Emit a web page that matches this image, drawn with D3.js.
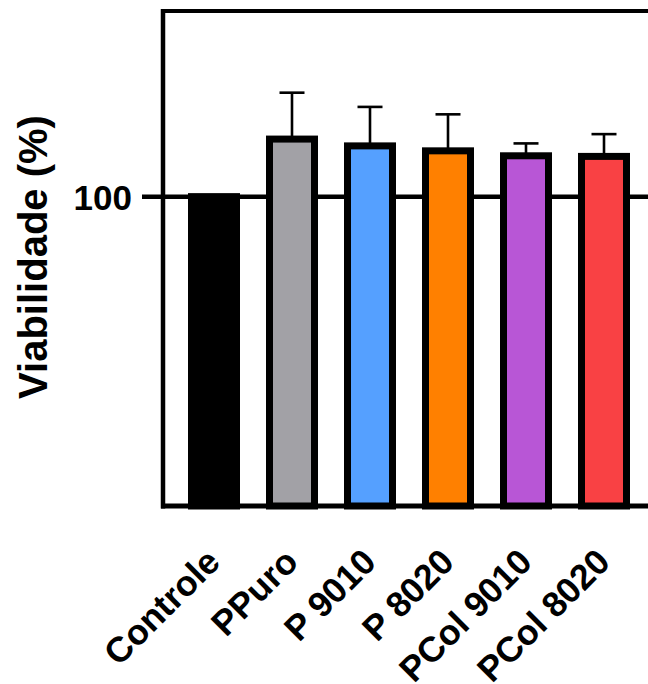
<!DOCTYPE html>
<html>
<head>
<meta charset="utf-8">
<script src="https://cdn.jsdelivr.net/npm/d3@7"></script>
<style>
  html, body { margin: 0; padding: 0; background: #fff; overflow: hidden; }
  svg { display: block; font-family: "Liberation Sans", Arial, sans-serif; font-weight: bold; }
</style>
</head>
<body>
<svg width="648" height="684"></svg>
<script>
// data
const categories = ["Controle", "PPuro", "P 9010", "P 8020", "PCol 9010", "PCol 8020"];
const means      = [100, 109.3, 108.2, 107.4, 106.6, 106.5];
const errors     = [0, 7.5, 6.3, 5.9, 2.0, 3.6];
const colors     = ["#000000", "#a2a1a6", "#55a0ff", "#ff8000", "#b856d6", "#f94144"];
const yTicks     = [100];

const svg = d3.select("svg");

const plotLeft = 163, plotRight = 660, plotTop = 11, plotBottom = 506;
const BAR_W = 45;

const x = d3.scalePoint()
  .domain(categories)
  .range([214, 604]);

const y = d3.scaleLinear()
  .domain([50, 130])
  .range([plotBottom, plotTop]);

// reference line at 100 (tick + line across)
svg.selectAll("line.ref")
  .data(yTicks)
  .enter().append("line")
    .attr("class", "ref")
    .attr("x1", 142).attr("x2", plotRight)
    .attr("y1", d => y(d)).attr("y2", d => y(d))
    .attr("stroke", "#000").attr("stroke-width", 4.5);

svg.selectAll("text.ytick")
  .data(yTicks)
  .enter().append("text")
    .attr("class", "ytick")
    .attr("x", 132)
    .attr("y", d => y(d) + 13)
    .attr("text-anchor", "end")
    .attr("font-size", 35)
    .text(d => d);

const rows = categories.map((c, i) => ({ cat: c, mean: means[i], err: errors[i], color: colors[i] }));

// error bars (drawn under the bars)
const eb = svg.selectAll("g.err")
  .data(rows.filter(d => d.err > 0))
  .enter().append("g")
    .attr("class", "err")
    .attr("stroke", "#000")
    .attr("stroke-width", 2.6);
eb.append("line")
  .attr("x1", d => x(d.cat)).attr("x2", d => x(d.cat))
  .attr("y1", d => y(d.mean)).attr("y2", d => y(d.mean + d.err));
eb.append("line")
  .attr("x1", d => x(d.cat) - 12.5).attr("x2", d => x(d.cat) + 12.5)
  .attr("y1", d => y(d.mean + d.err)).attr("y2", d => y(d.mean + d.err));

// bars
svg.selectAll("rect.bar")
  .data(rows)
  .enter().append("rect")
    .attr("class", "bar")
    .attr("x", d => x(d.cat) - BAR_W / 2)
    .attr("width", BAR_W)
    .attr("y", d => y(d.mean))
    .attr("height", d => y(50) - y(d.mean))
    .attr("fill", d => d.color)
    .attr("stroke", "#000")
    .attr("stroke-width", 7);

// frame: left axis, top and bottom lines
svg.append("line")
  .attr("x1", plotLeft).attr("x2", plotLeft).attr("y1", plotTop - 2).attr("y2", plotBottom + 2.5)
  .attr("stroke", "#000").attr("stroke-width", 4.5);
svg.append("line")
  .attr("x1", plotLeft - 2).attr("x2", plotRight).attr("y1", plotTop).attr("y2", plotTop)
  .attr("stroke", "#000").attr("stroke-width", 4);
svg.append("line")
  .attr("x1", plotLeft - 2).attr("x2", plotRight).attr("y1", plotBottom).attr("y2", plotBottom)
  .attr("stroke", "#000").attr("stroke-width", 5);

// x labels, rotated, ending just right of each bar centre
svg.selectAll("text.xlab")
  .data(categories)
  .enter().append("text")
    .attr("class", "xlab")
    .attr("transform", d => `translate(${x(d) + 8},564) rotate(-45)`)
    .attr("text-anchor", "end")
    .attr("font-size", 35.5)
    .text(d => d);

// y title
svg.append("text")
  .attr("transform", "translate(47,257) rotate(-90)")
  .attr("text-anchor", "middle")
  .attr("font-size", 40)
  .text("Viabilidade (%)");
</script>
</body>
</html>
